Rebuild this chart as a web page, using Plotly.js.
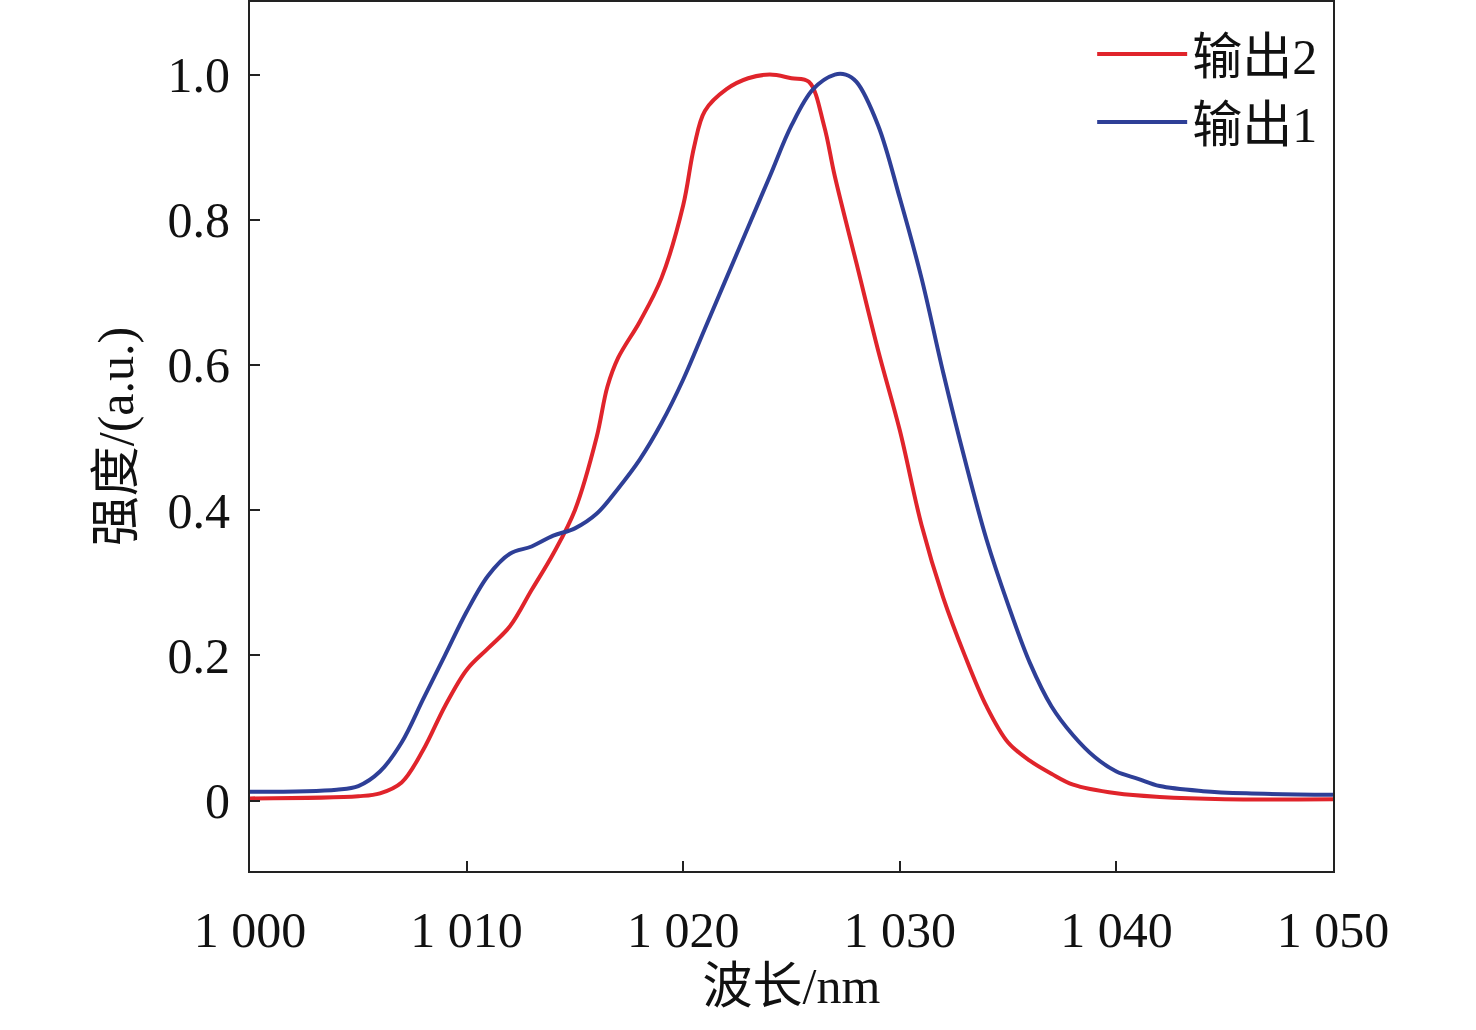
<!DOCTYPE html>
<html>
<head>
<meta charset="utf-8">
<script src="https://cdn.plot.ly/plotly-3.0.1.min.js"></script>
<style>body{margin:0;background:#fff}#chart{width:1476px;height:1030px}</style>
</head>
<body>
<div id="chart"></div>
<script>
// 输出2 (red)
var xRed = [1000,1005,1006,1007,1008,1009,1010,1011,1012,1013,1014,1015,1016,1016.5,1017,1018,1019,1020,1020.5,1021,1022,1023,1024,1025,1025.8,1026.5,1027,1028,1029,1030,1031,1032,1033,1034,1035,1036,1037,1038,1040,1042,1045,1050]
var yRed = [0.003,0.006,0.01,0.025,0.07,0.13,0.18,0.21,0.24,0.29,0.34,0.40,0.50,0.57,0.61,0.66,0.72,0.82,0.90,0.95,0.98,0.995,1.0,0.995,0.99,0.93,0.86,0.74,0.62,0.51,0.38,0.28,0.20,0.13,0.08,0.055,0.037,0.022,0.01,0.005,0.002,0.002]
// 输出1 (blue)
var xBlue = [1000,1004,1005,1006,1007,1008,1009,1010,1011,1012,1013,1014,1015,1016,1017,1018,1019,1020,1021,1022,1023,1024,1025,1026,1027,1027.5,1028,1029,1030,1031,1032,1033,1034,1035,1036,1037,1038,1039,1040,1041,1042,1044,1046,1050]
var yBlue = [0.012,0.015,0.02,0.04,0.08,0.14,0.2,0.26,0.31,0.34,0.35,0.365,0.375,0.395,0.43,0.47,0.52,0.58,0.65,0.72,0.79,0.86,0.93,0.98,1.0,1.0,0.99,0.93,0.83,0.72,0.59,0.47,0.36,0.27,0.19,0.13,0.09,0.06,0.04,0.03,0.02,0.013,0.01,0.008]
var xTicks = [1000,1010,1020,1030,1040,1050]
var xTickText = ['1 000','1 010','1 020','1 030','1 040','1 050']
var yTicks = [0,0.2,0.4,0.6,0.8,1.0]
var yTickText = ['0','0.2','0.4','0.6','0.8','1.0']

var fnt = 'Liberation Serif, Noto Sans CJK SC, serif'
Plotly.newPlot('chart', [
  { x: xRed, y: yRed, name: '输出2', mode: 'lines', line: { color: '#e0242b', width: 4, shape: 'spline' } },
  { x: xBlue, y: yBlue, name: '输出1', mode: 'lines', line: { color: '#2e3f97', width: 4, shape: 'spline' } }
], {
  width: 1476, height: 1030,
  margin: { l: 250, r: 143, t: 2, b: 159 },
  paper_bgcolor: '#fff', plot_bgcolor: '#fff',
  font: { family: fnt, size: 50, color: '#111' },
  showlegend: true,
  legend: { x: 0.99, y: 0.985, xanchor: 'right', yanchor: 'top', bgcolor: 'rgba(0,0,0,0)', font: { size: 50 }, itemwidth: 90, tracegroupgap: 0 },
  xaxis: {
    range: [1000, 1050], tickvals: xTicks, ticktext: xTickText,
    ticks: 'inside', ticklen: 10, tickwidth: 2, tickcolor: '#222',
    showline: true, linecolor: '#222', linewidth: 2, mirror: true,
    showgrid: false, zeroline: false, ticklabelstandoff: 14,
    title: { text: '波长/nm', font: { size: 50 }, standoff: 6 }
  },
  yaxis: {
    range: [-0.097, 1.1], tickvals: yTicks, ticktext: yTickText,
    ticks: 'inside', ticklen: 10, tickwidth: 2, tickcolor: '#222',
    showline: true, linecolor: '#222', linewidth: 2, mirror: true,
    showgrid: false, zeroline: false, ticklabelstandoff: 8,
    title: { text: '强度/(a.u.)', font: { size: 50 }, standoff: 18 }
  }
}, { displayModeBar: false })
</script>
</body>
</html>
